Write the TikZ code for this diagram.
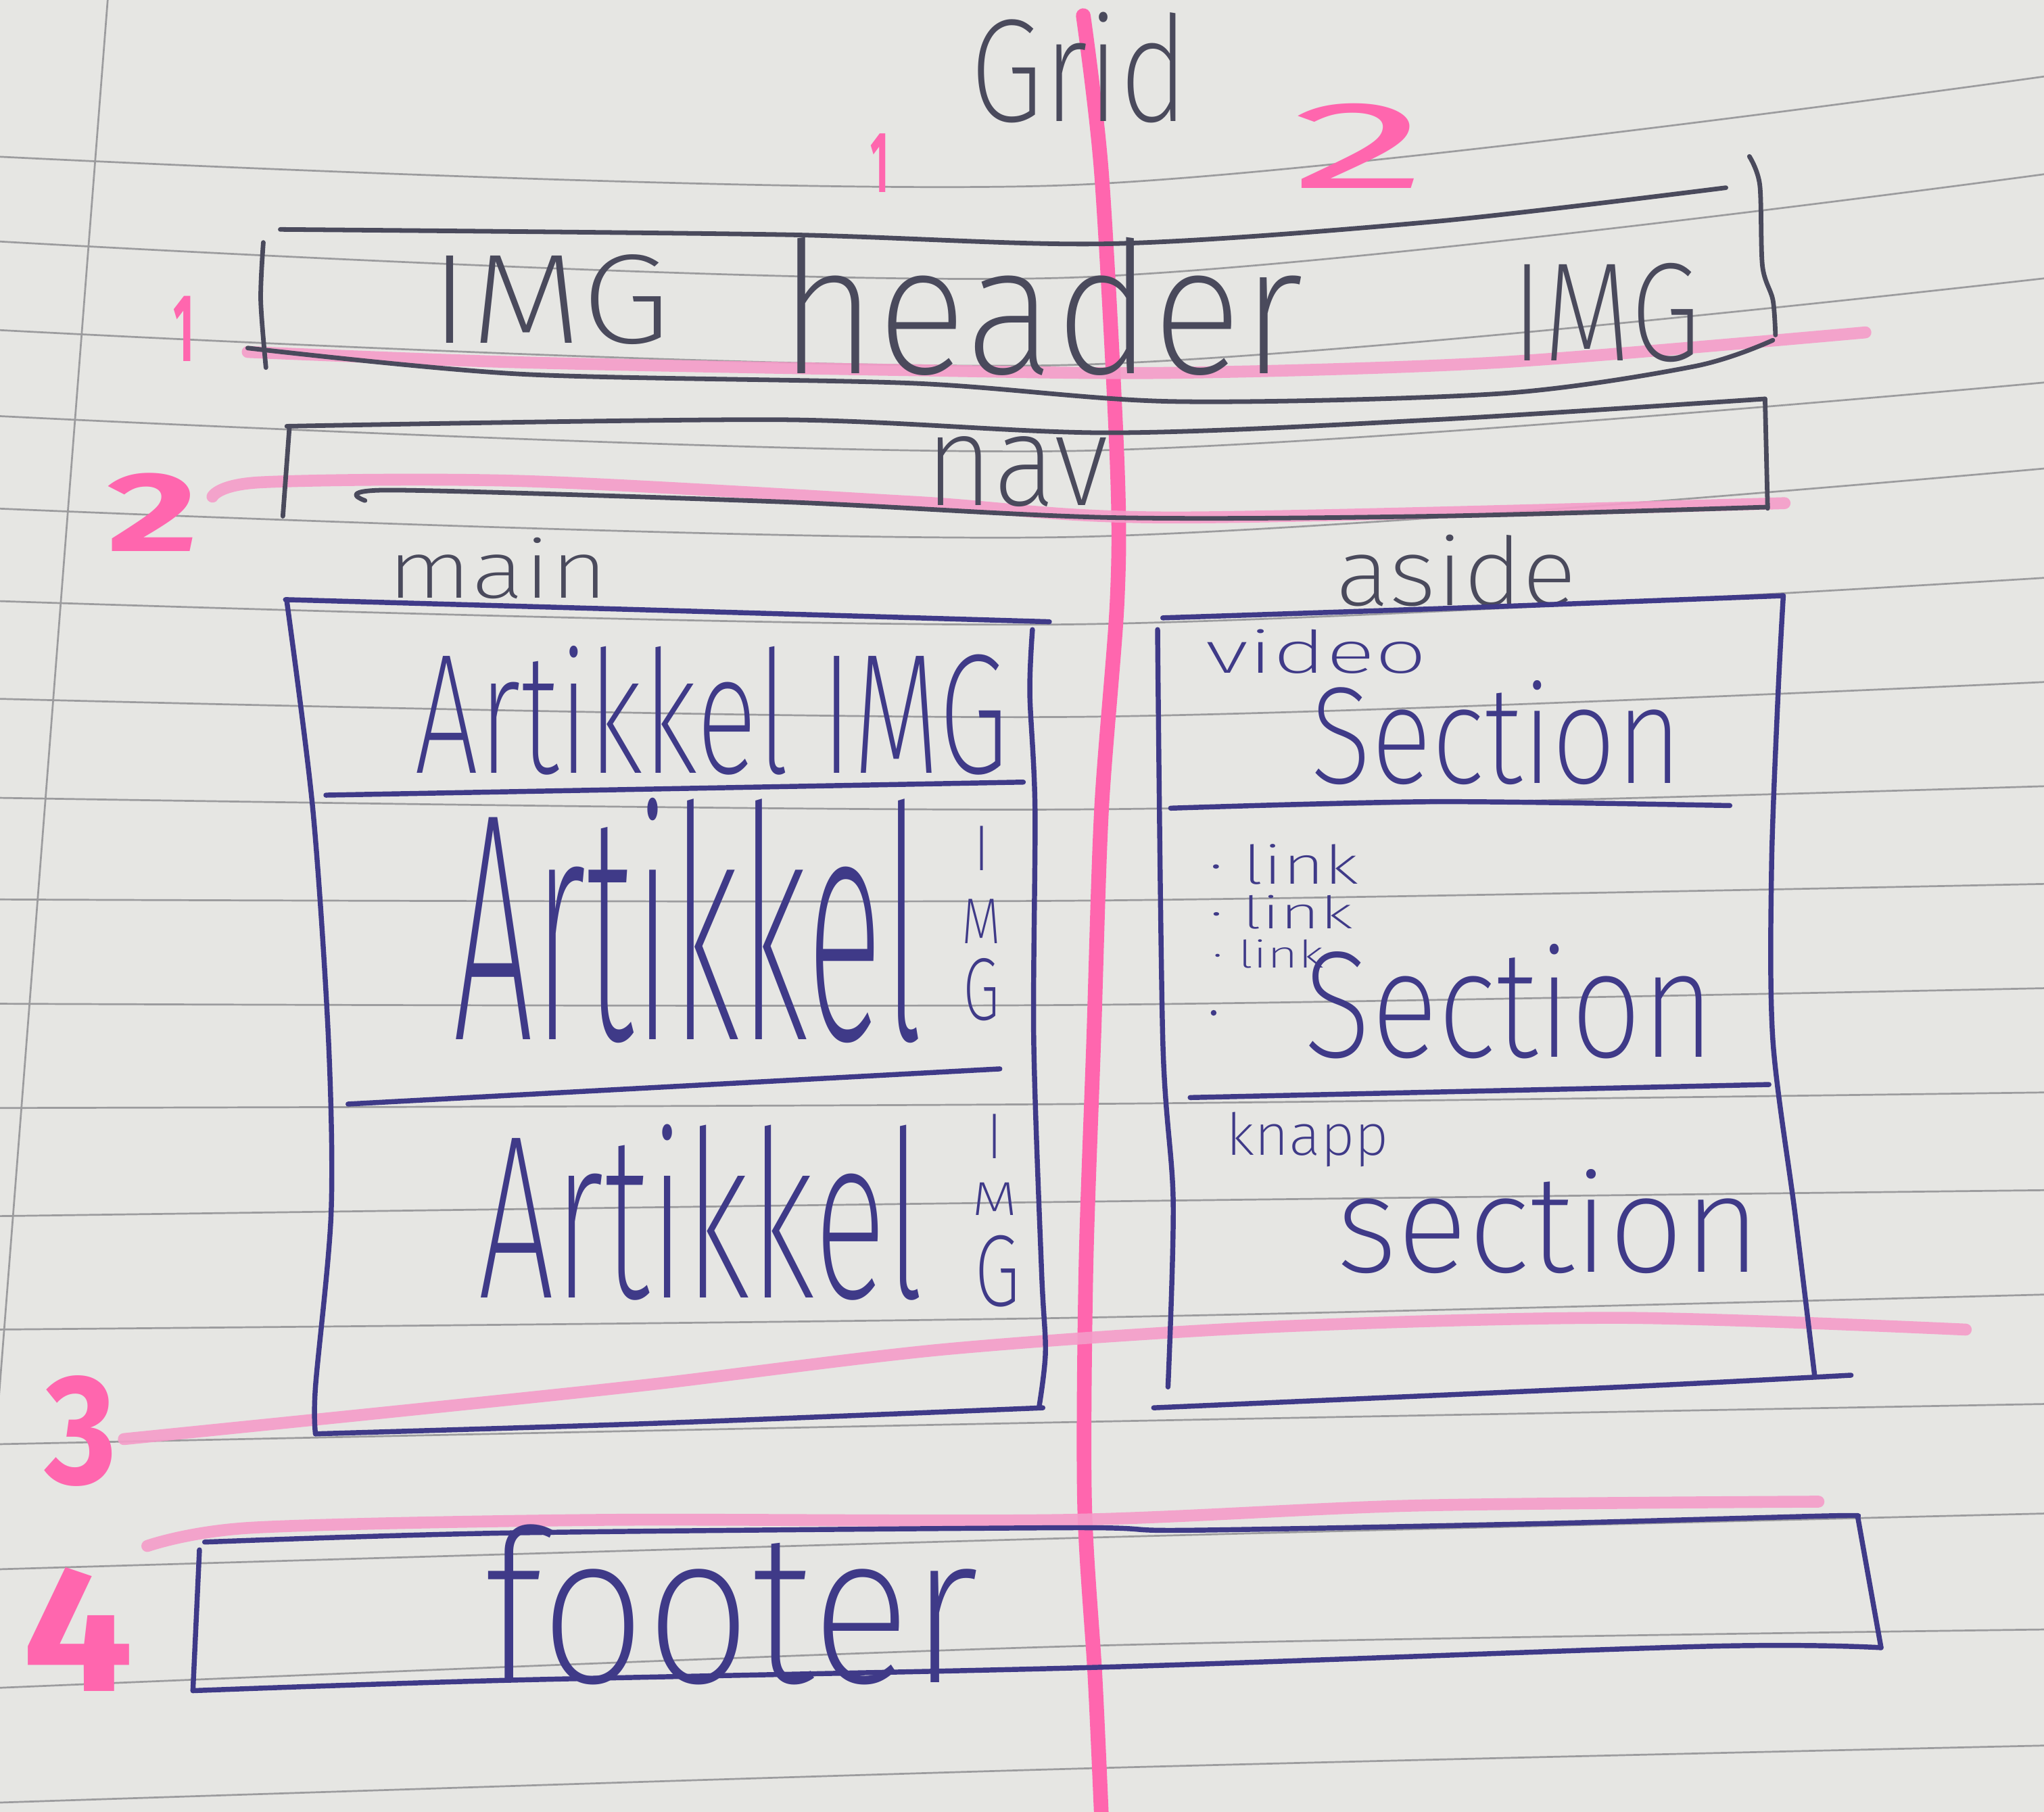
\documentclass[tikz,border=0pt]{standalone}
\usepackage{fontspec}
\setmainfont{Fira Sans}
\newfontfamily\handfont{Fira Sans ExtraLight}
\definecolor{paper}{HTML}{E6E6E3}
\definecolor{rulegray}{HTML}{9C9C9E}
\definecolor{inkgray}{HTML}{4A4A5C}
\definecolor{inkblue}{HTML}{3F3A88}
\definecolor{hilite}{HTML}{F59CC9}
\definecolor{hilitedeep}{HTML}{FF66AE}
% handwritten word fitted into a box of given width and total height (in mm)
\newcommand\hw[3]{\resizebox*{#1mm}{#2mm}{#3}}
\tikzset{
  ruleline/.style={draw=rulegray, line width=0.4pt},
  pen/.style={draw=inkblue, line width=1.1pt, line cap=round, line join=round},
  pencil/.style={draw=inkgray, line width=1.0pt, line cap=round, line join=round},
  marker/.style={draw=hilite, line width=2.6pt, line cap=round, opacity=0.9},
  markerv/.style={draw=hilitedeep, line width=3.2pt, line cap=round},
  txt/.style={inner sep=0pt, outer sep=0pt, text=inkblue, font=\handfont},
  gtxt/.style={txt, text=inkgray},
  ptxt/.style={inner sep=0pt, outer sep=0pt, text=hilitedeep, font=\bfseries},
}
\begin{document}
\begin{tikzpicture}[x=0.1mm, y=-0.1mm]
% paper
\fill[paper] (0,0) rectangle (1568,1390);
\useasboundingbox (0,0) rectangle (1568,1390);

% ruled lines of the notebook page
\foreach \a/\b/\c in {120/142/58,185/213/133,253/280/213,319/346/293,390/412/359,
  461/479/443,536/550/523,612/621/603,690/691/678,770/771/758,850/847/838,
  933/922/913,1020/1011/993,1108/1091/1077,1204/1180/1161,1295/1263/1250,1383/1357/1339}
  \draw[ruleline] plot[smooth] coordinates {(-5,\a) (820,\b) (1573,\c)};
% margin line
\draw[ruleline] (83,-5) -- (-26,1395);

% highlighter: column split and row lines
\draw[markerv] plot[smooth] coordinates {(831,12) (845,133) (857,355) (857,461) (845,621)
  (839,798) (833,975) (832,1153) (840,1286) (845,1395)};
\draw[marker] plot[smooth] coordinates {(190,270) (400,278) (700,284) (900,286) (1150,278) (1431,255)};
\draw[marker] plot[smooth] coordinates {(163,381) (200,370) (400,369) (700,385) (900,397) (1369,386)};
\draw[marker] plot[smooth] coordinates {(95,1104) (311,1082) (500,1062) (726,1035) (974,1018) (1245,1011) (1508,1020)};
\draw[marker] plot[smooth] coordinates {(113,1186) (193,1172) (461,1166) (818,1166) (1086,1155) (1395,1152)};

% column numbers and row numbers
\node[ptxt] (col1) at (675,125) {\hw{1.4}{4.5}{1}};
\node[ptxt, font=\mdseries] (col2) at (1043,112) {\hw{10.5}{6.5}{2}};
\node[ptxt] (row1) at (141,252) {\hw{1.6}{5.0}{1}};
\node[ptxt] (row2) at (117,393) {\hw{7.0}{6.0}{2}};
\node[ptxt] (row3) at (62,1098) {\hw{5.5}{8.5}{3}};
\node[ptxt] (row4) at (60,1250) {\hw{8.5}{9.5}{4}};

% title
\node[gtxt] (title) at (828,52) {\hw{16.8}{8.5}{Grid}};

% header box
\draw[pencil] plot[smooth] coordinates {(215,176) (600,180) (850,187) (1100,170) (1324,144)};
\draw[pencil] plot[smooth] coordinates {(202,186) (200,230) (204,282)};
\draw[pencil] plot[smooth] coordinates {(1342,120) (1350,142) (1352,204) (1360,230) (1362,257)};
\draw[pencil] plot[smooth] coordinates {(190,267) (400,287) (700,294) (900,308) (1150,302) (1300,281) (1360,261)};
\node[gtxt] (imgl) at (422,230) {\hw{18.5}{6.9}{IMG}};
\node[gtxt] (header) at (799,235) {\hw{40.2}{10.6}{header}};
\node[gtxt] (imgr) at (1232,240) {\hw{14.5}{7.6}{IMG}};

% nav box
\draw[pencil] plot[smooth] coordinates {(220,327) (600,322) (850,332) (1100,322) (1354,306)};
\draw[pencil] (222,328) -- (217,396);
\draw[pencil] (1354,306) -- (1356,390);
\draw[pencil] plot[smooth] coordinates {(280,384) (300,376) (600,385) (850,397) (1100,396) (1356,389)};
\node[gtxt] (nav) at (780,362) {\hw{14.0}{5.4}{nav}};

% area labels
\node[gtxt] (mainlbl) at (382,436) {\hw{16.9}{4.7}{main}};
\node[gtxt] (asidelbl) at (1117,438) {\hw{18.5}{5.5}{aside}};

% main column
\draw[pen] plot[smooth] coordinates {(219,460) (500,468) (805,477)};
\draw[pen] plot[smooth] coordinates {(220,461) (240,621) (252,798) (254,931) (242,1064) (242,1100)};
\draw[pen] plot[smooth] coordinates {(792,483) (790,532) (794,621) (793,798) (799,975) (802,1037) (797,1080)};
\draw[pen] plot[smooth] coordinates {(242,1100) (500,1092) (800,1080)};
\draw[pen] (250,610) -- (785,600);
\draw[pen] (267,847) -- (767,820);
\node[txt] (art1) at (546,545) {\hw{45.5}{9.9}{Artikkel IMG}};
\node[txt] (art2) at (528,706) {\hw{36.0}{18.8}{Artikkel}};
\node[txt] (art2i) at (753,651) {\hw{1.2}{3.4}{I}};
\node[txt] (art2m) at (753,707) {\hw{3.0}{3.4}{M}};
\node[txt] (art2g) at (753,759) {\hw{2.8}{4.8}{G}};
\node[txt] (art3) at (538,930) {\hw{34.2}{13.5}{Artikkel}};
\node[txt] (art3i) at (763,872) {\hw{1.2}{3.4}{I}};
\node[txt] (art3m) at (763,920) {\hw{3.5}{2.5}{M}};
\node[txt] (art3g) at (765,975) {\hw{3.5}{5.5}{G}};

% aside column
\draw[pen] plot[smooth] coordinates {(892,474) (1130,466) (1368,457)};
\draw[pen] plot[smooth] coordinates {(888,483) (892,798) (900,922) (896,1064)};
\draw[pen] plot[smooth] coordinates {(1368,457) (1364,532) (1359,665) (1360,798) (1377,931) (1392,1055)};
\draw[pen] plot[smooth] coordinates {(885,1080) (1245,1064) (1420,1055)};
\draw[pen] plot[smooth] coordinates {(898,620) (1100,615) (1327,618)};
\draw[pen] (913,842) -- (1357,832);
\node[txt] (video) at (1010,500) {\hw{17.0}{3.4}{video}};
\node[txt] (sec1) at (1148,562) {\hw{28.5}{8.0}{Section}};
\node[txt] (link1) at (985,663) {\hw{11.5}{3.1}{· link}};
\node[txt] (link2) at (983,700) {\hw{11.0}{2.6}{· link}};
\node[txt] (link3) at (973,732) {\hw{8.5}{2.2}{· link}};
\fill[inkblue] (931,777) circle (2.2);
\node[txt] (sec2) at (1158,768) {\hw{31.5}{8.8}{Section}};
\node[txt] (knapp) at (1003,874) {\hw{12.5}{4.2}{knapp}};
\node[txt] (sec3) at (1188,937) {\hw{32.6}{8.0}{section}};

% footer box
\draw[pen] plot[smooth] coordinates {(157,1183) (390,1176) (818,1172) (907,1174) (1175,1169) (1398,1163) (1425,1163)};
\draw[pen] (153,1189) -- (148,1297);
\draw[pen] (1425,1163) -- (1443,1264);
\draw[pen] plot[smooth] coordinates {(148,1297) (390,1289) (845,1279) (1309,1263) (1443,1264)};
\node[txt] (footer) at (561,1231) {\hw{38.0}{12.3}{footer}};
\end{tikzpicture}
\end{document}
